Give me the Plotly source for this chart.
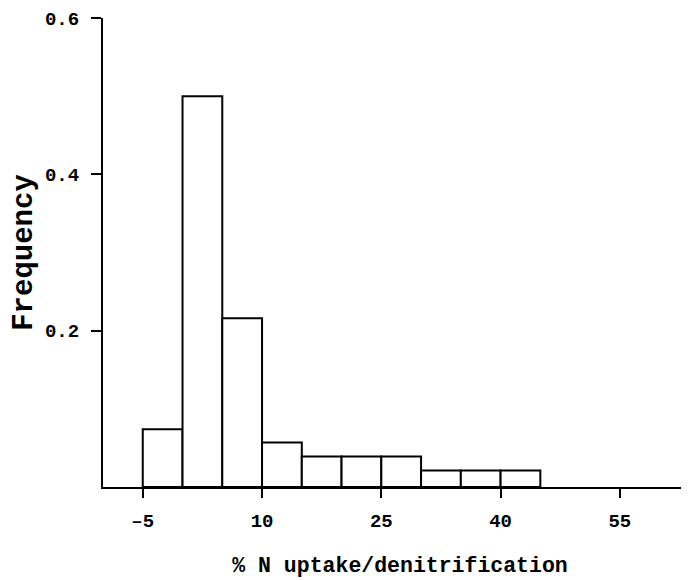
import plotly.graph_objects as go

bin_left = [-5, 0, 5, 10, 15, 20, 25, 30, 35, 40]
bin_width = 5
frequency = [0.074, 0.5, 0.216, 0.057, 0.039, 0.039, 0.039, 0.021, 0.021, 0.021]
x_ticks = [-5, 10, 25, 40, 55]
y_ticks = [0.2, 0.4, 0.6]

font_family = "Liberation Mono"

fig = go.Figure(go.Bar(
    x=[b + bin_width / 2 for b in bin_left],
    y=frequency,
    width=bin_width,
    marker=dict(color="white", line=dict(color="black", width=2)),
))

fig.update_layout(
    width=689, height=580,
    margin=dict(l=95, r=0, t=10, b=101),
    paper_bgcolor="white", plot_bgcolor="white",
    showlegend=False,
    font=dict(family=font_family, color="black", size=16),
    xaxis=dict(
        range=[-10, 64.7], tickvals=x_ticks, ticktext=[str(v).replace("-", "\u2013") for v in x_ticks],
        showgrid=False, zeroline=False, showline=True, linecolor="black", linewidth=2,
        ticks="outside", ticklen=9, tickwidth=2, tickcolor="black",
        ticklabelstandoff=6, automargin=False,
        tickfont=dict(family=font_family, size=19, weight="bold"),
        title=dict(text="% N uptake/denitrification", standoff=25,
                   font=dict(family=font_family, size=21.5, weight="bold")),
    ),
    yaxis=dict(
        range=[0, 0.6], tickvals=y_ticks, ticktext=["0.2", "0.4", "0.6"],
        showgrid=False, zeroline=False, showline=True, linecolor="black", linewidth=2,
        ticks="outside", ticklen=10, tickwidth=2, tickcolor="black",
        ticklabelstandoff=8, automargin=False,
        tickfont=dict(family=font_family, size=19, weight="bold"),
        title=dict(text="Frequency", standoff=4,
                   font=dict(family=font_family, size=29, weight="bold")),
    ),
)

fig.write_html("out.html")
